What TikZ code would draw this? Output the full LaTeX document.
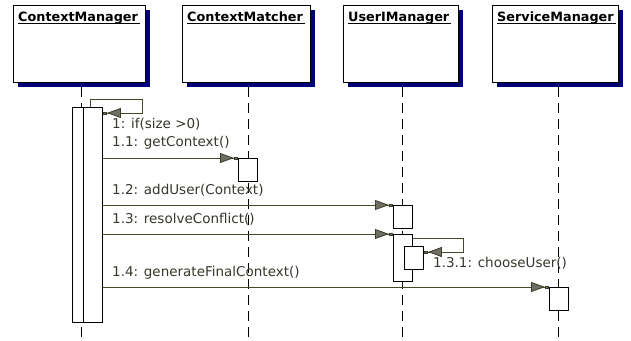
\documentclass[tikz,border=0pt]{standalone}
\usepackage{fontspec}
\setmainfont{DejaVu Sans}
\usetikzlibrary{arrows.meta,shadows}
\definecolor{shadowblue}{RGB}{0,0,120}
\definecolor{msgcol}{RGB}{72,72,40}
\definecolor{tipfill}{RGB}{110,110,100}
\definecolor{tipline}{RGB}{60,60,40}
\definecolor{labelcol}{RGB}{55,55,45}

\begin{document}
\begin{tikzpicture}[x=1pt,y=-1pt,
  objbox/.style={draw=black, fill=white, line width=1pt, anchor=north west, inner sep=0pt,
    general shadow={fill=shadowblue, shadow xshift=4pt, shadow yshift=-4pt}},
  objtitle/.style={anchor=base west, inner sep=0pt, font=\fontsize{12.8}{14}\selectfont\bfseries},
  act/.style={draw=black, fill=white, line width=0.9pt, anchor=north west, inner sep=0pt, minimum width=19pt},
  life/.style={draw=black, line width=1pt, dash pattern=on 10pt off 6pt},
  msg/.style={draw=msgcol, line width=1pt,
    -{Triangle[length=14pt,width=10pt,fill=tipfill,color=tipline,line width=0.8pt]Rectangle[length=4pt,width=3pt,fill=tipfill,color=tipline]}},
  lbl/.style={anchor=west, inner sep=0pt, text=labelcol, font=\fontsize{13.5}{15}\selectfont}
]
\useasboundingbox (0,0) rectangle (631,340);

% object boxes
\node[objbox, minimum width=132pt, minimum height=77pt] (cm) at (13,5) {};
\node[objbox, minimum width=128pt, minimum height=77pt] (cx) at (182,5) {};
\node[objbox, minimum width=115pt, minimum height=77pt] (um) at (343,5) {};
\node[objbox, minimum width=126pt, minimum height=77pt] (sm) at (492,5) {};

% object names, underlined
\node[objtitle] (cmT) at (18,21) {ContextManager};
\node[objtitle] (cxT) at (187,21) {ContextMatcher};
\node[objtitle] (umT) at (348,21) {UserIManager};
\node[objtitle] (smT) at (497,21) {ServiceManager};
\foreach \t in {cmT,cxT,umT,smT}
  \draw[line width=0.8pt] ([yshift=-2.5pt]\t.base west) -- ([yshift=-2.5pt,xshift=2pt]\t.base east);

% lifelines
\coordinate (cmE) at (81,338);
\coordinate (cxE) at (248,338);
\coordinate (umE) at (402,338);
\coordinate (smE) at (558,338);
\draw[life] ([yshift=-4pt]cm.south -| cmE) -- (cmE);
\draw[life] ([yshift=-4pt]cx.south -| cxE) -- (cxE);
\draw[life] ([yshift=-4pt]um.south -| umE) -- (umE);
\draw[life] ([yshift=-4pt]sm.south -| smE) -- (smE);

% activations
\node[act, minimum height=215pt] (cmA) at (72,107) {};
\node[act, minimum height=215pt] (cmB) at (83,107) {};
\node[act, minimum height=23pt] (cxA) at (238,158) {};
\node[act, minimum height=23pt] (umA) at (393,205) {};
\node[act, minimum height=47pt] (umB) at (393,234) {};
\node[act, minimum height=23pt] (umC) at (404,246) {};
\node[act, minimum height=23pt] (smA) at (549,287) {};

% messages
\coordinate (l1a) at (142,99);
\coordinate (l1b) at (142,113);
\draw[msg] ([xshift=-1pt]cmA.north east) -- ([xshift=-1pt]cmA.north east |- l1a) -- (l1a) -- (l1b) -- (cmB.east |- l1b);
\draw[msg] (cmB.east |- cxA.north) -- (cxA.north west);
\draw[msg] (cmB.east |- umA.north) -- (umA.north west);
\draw[msg] (cmB.east |- umB.north) -- (umB.north west);
\draw[msg] (cmB.east |- smA.north) -- (smA.north west);
\coordinate (l2a) at (463,238);
\coordinate (l2b) at (463,252);
\draw[msg] (umB.east |- l2a) -- (l2a) -- (l2b) -- (umC.east |- l2b);

% message labels
\node[lbl] (m1) at (112,124) {1: if(size >0)};
\node[lbl] (m11) at (112,143) {1.1: getContext()};
\node[lbl] (m12) at (112,190) {1.2: addUser(Context)};
\node[lbl] (m13) at (112,219) {1.3: resolveConflict()};
\node[lbl] (m131) at (433,263) {1.3.1: chooseUser()};
\node[lbl] (m14) at (112,273) {1.4: generateFinalContext()};
\end{tikzpicture}
\end{document}
